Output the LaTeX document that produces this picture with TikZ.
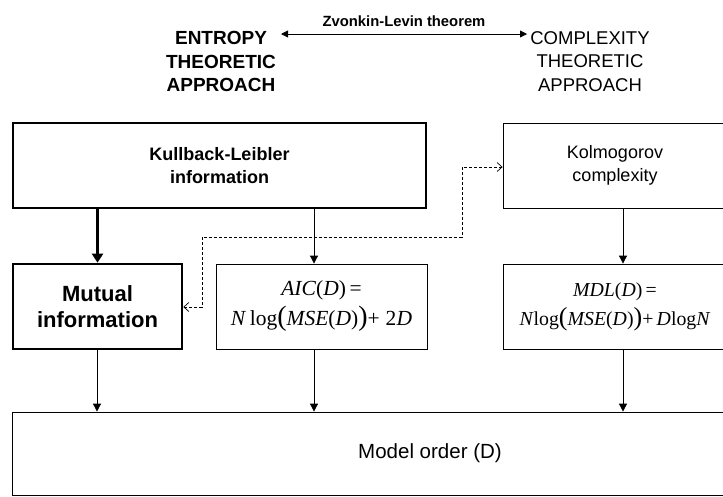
\documentclass[tikz,border=0pt]{standalone}
\usepackage{fontspec}
\setmainfont{Liberation Sans}
\newfontfamily\tnr{Liberation Serif}
\usetikzlibrary{arrows.meta}
\newcommand{\bigpar}[1]{{\fontsize{28}{28}\selectfont #1}}
\newcommand{\midpar}[1]{{\fontsize{26}{26}\selectfont #1}}
\begin{document}
\begin{tikzpicture}[x=1pt,y=-1pt,
  thinbox/.style={draw,line width=0.8pt,inner sep=0pt,align=center,font=\fontsize{18}{23}\selectfont},
  thickbox/.style={draw,line width=2.6pt,inner sep=0pt,align=center,font=\bfseries\fontsize{18}{23}\selectfont},
  mathbox/.style={thinbox,font=\tnr\fontsize{21.5}{30}\selectfont},
  arr/.style={line width=0.8pt,-{Triangle[length=8pt,width=8pt]}},
  thickarr/.style={line width=2.6pt,-{Triangle[length=9pt,width=11pt]}},
  dasharr/.style={line width=0.7pt,dash pattern=on 3pt off 2pt,{Straight Barb[length=5pt,width=9pt]}-{Straight Barb[length=5pt,width=9pt]}},
  head/.style={align=center,inner sep=0pt,font=\fontsize{18.5}{23.5}\selectfont}]
\useasboundingbox (0,0) rectangle (723,496);
\clip (0,0) rectangle (723,496);
% headings
\node[head,font=\bfseries\fontsize{19}{23.5}\selectfont] (ent) at (221,61.5) {ENTROPY\\THEORETIC\\APPROACH};
\node[head] (comp) at (590,61.5) {COMPLEXITY\\THEORETIC\\APPROACH};
\coordinate (zl) at (281,34);
\coordinate (zr) at (527,34);
\draw[line width=0.8pt,{Triangle[length=7pt,width=7pt]}-{Triangle[length=7pt,width=7pt]}] (zl) -- (zr)
  node[midway,above=4pt,font=\bfseries\fontsize{14.8}{18}\selectfont] (zv) {Zvonkin-Levin theorem};
% boxes
\node[thickbox,minimum width=413pt,minimum height=85pt] (kl) at (219.5,165.5) {Kullback-Leibler\\information};
\node[thinbox,minimum width=224pt,minimum height=85pt] (ko) at (615,165.5) {Kolmogorov\\complexity};
\node[thickbox,minimum width=169pt,minimum height=85pt,font=\bfseries\fontsize{22}{25.5}\selectfont] (mi) at (97.5,306.5) {Mutual\\information};
\node[mathbox,minimum width=211pt,minimum height=85pt] (aic) at (321.5,306.5)
  {\textit{AIC}(\textit{D})\,=\\\textit{N}\,log\bigpar{(}\textit{MSE}(\textit{D})\bigpar{)}+\;2\textit{D}};
\node[mathbox,minimum width=224pt,minimum height=85pt,font=\tnr\fontsize{19.8}{29}\selectfont] (mdl) at (615,306.5)
  {\textit{MDL}(\textit{D})\,=\\\textit{N}log\midpar{(}\textit{MSE}(\textit{D})\midpar{)}+\,\textit{D}log\textit{N}};
\node[thinbox,minimum width=723pt,minimum height=83pt] (mo) at (373.5,453.5) {};
\node[font=\fontsize{20.5}{24}\selectfont] (mot) at (430,453) {Model order (D)};
% arrows
\draw[thickarr] (kl.south -| mi) -- (mi.north);
\draw[arr] (kl.south -| 314,0) -- (aic.north -| 314,0);
\draw[arr] (ko.south -| 623,0) -- (mdl.north -| 623,0);
\draw[arr] (mi.south -| 97,0) -- (mo.north -| 97,0);
\draw[arr] (aic.south -| 314,0) -- (mo.north -| 314,0);
\draw[arr] (mdl.south -| 623,0) -- (mo.north -| 623,0);
% dashed link
\coordinate (d1) at (202,307);
\coordinate (d2) at (202,237);
\coordinate (d3) at (462,237);
\coordinate (d4) at (462,167);
\draw[dasharr] (mi.east |- d1) -- (d1) -- (d2) -- (d3) -- (d4) -- (ko.west |- d4);
\end{tikzpicture}
\end{document}
